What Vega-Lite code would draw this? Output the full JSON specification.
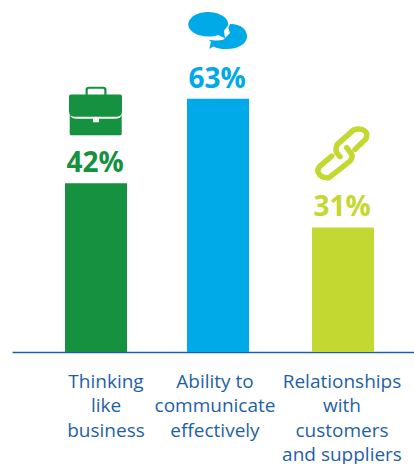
{
  "$schema": "https://vega.github.io/schema/vega-lite/v6.json",
  "width": 402,
  "height": 352,
  "autosize": "none",
  "padding": {"left": 12, "top": 0, "right": 0, "bottom": 112},
  "background": "white",
  "config": {"view": {"stroke": null}},
  "data": {"values": [
    {"skill": "Thinking like business", "caption": "Thinking|like|business", "pct": 42, "pctText": "42%"},
    {"skill": "Ability to communicate effectively", "caption": "Ability to|communicate|effectively", "pct": 63, "pctText": "63%"},
    {"skill": "Relationships with customers and suppliers", "caption": "Relationships|with|customers|and suppliers", "pct": 31, "pctText": "31%"}
  ]},
  "encoding": {
    "x": {
      "field": "skill",
      "type": "nominal",
      "sort": null,
      "scale": {"type": "point", "padding": 0.6275, "align": 0.542},
      "axis": {"title": null, "labels": false, "ticks": false, "grid": false, "domain": true, "domainColor": "#1f5fa6", "domainWidth": 1.5}
    },
    "y": {
      "field": "pct",
      "type": "quantitative",
      "scale": {"domain": [0, 87.56], "nice": false, "zero": true},
      "axis": null
    },
    "color": {
      "field": "skill",
      "type": "nominal",
      "sort": null,
      "legend": null,
      "scale": {"range": ["#15913f", "#00a9e8", "#c3d830"]}
    }
  },
  "layer": [
    {
      "mark": {"type": "bar", "size": 62, "xOffset": {"expr": "datum.pct === 63 ? -1.5 : 0"}}
    },
    {
      "mark": {"type": "text", "font": "Open Sans", "fontWeight": "bold", "fontSize": 28, "baseline": "alphabetic", "align": "center", "dy": -11, "xOffset": {"expr": "datum.pct === 63 ? -2.5 : -1"}},
      "encoding": {"text": {"field": "pctText", "type": "nominal"}}
    },
    {
      "transform": [{"filter": "datum.pct !== 31"}],
      "mark": {"type": "point", "filled": true, "opacity": 1, "strokeWidth": 0, "size": 4, "yOffset": -70, "xOffset": {"expr": "datum.pct === 63 ? -1.5 : 0"}},
      "encoding": {
        "shape": {
          "field": "skill",
          "type": "nominal",
          "sort": null,
          "legend": null,
          "scale": {
            "domain": ["Thinking like business", "Ability to communicate effectively"],
            "range": [
              "M-27,-17Q-27,-18.7 -25,-18.7L-10.5,-18.7L-10.5,-23Q-10.5,-26.3 -7,-26.3L7,-26.3Q10.5,-26.3 10.5,-23L10.5,-18.7L24,-18.7Q26,-18.7 26,-17L26,-2Q26,3.7 20,3.7L-21,3.7Q-27,3.7 -27,-2ZM-8.3,-18.7L8.3,-18.7L8.3,-23Q8.3,-24.3 7,-24.3L-7,-24.3Q-8.3,-24.3 -8.3,-23ZM-26.3,1Q-25,5.5 -19,5.5L-3,5.5L-3,9L3,9L3,5.5L19,5.5Q25,5.5 25.7,1L25.7,20.5Q25.7,22 24,22L-24.5,22Q-26.3,22 -26.3,20.5Z",
              "M0,6.2A20,12.2 0 1 1 10.2,-3.5L6,2L7,9.5ZM12,-4.7C22,-5 29,0 29,7.7C29,15 20,20.3 8.7,20.3C3,20.3 -1,19.5 -4.7,17.7L-8.7,20.3L-7,12.7L-9.7,11C-3,12 1,12 5.3,11L12,4.3L10.3,-0.7Z"
            ]
          }
        }
      }
    },
    {
      "transform": [{"filter": "datum.pct === 31"}],
      "mark": {"type": "point", "filled": false, "opacity": 1, "strokeWidth": 5.5, "strokeCap": "round", "strokeJoin": "round", "size": 4, "yOffset": -70, "shape": "M12,-8L23,-18.7Q25,-24 22,-26.3Q18,-30 10.3,-27.3L-5.7,-13Q-8,-8 -6.3,-4.7L-3,-0.7M-11.3,-1.3L-23.7,9.3Q-26,13 -24.7,15.3Q-22,21 -14,20.3L7,3.7Q10,0 8.7,-3L3.7,-9.7"}
    },
    {
      "mark": {"type": "text", "font": "Open Sans", "fontSize": 19, "color": "#1f5fa6", "align": "center", "baseline": "alphabetic", "lineBreak": "|", "lineHeight": 24.3, "dy": 36, "xOffset": {"expr": "datum.pct === 42 ? 10 : datum.pct === 63 ? -4.5 : -1"}},
      "encoding": {
        "text": {"field": "caption", "type": "nominal"},
        "y": {"datum": 0},
        "color": {"value": "#1f5fa6"}
      }
    }
  ]
}
